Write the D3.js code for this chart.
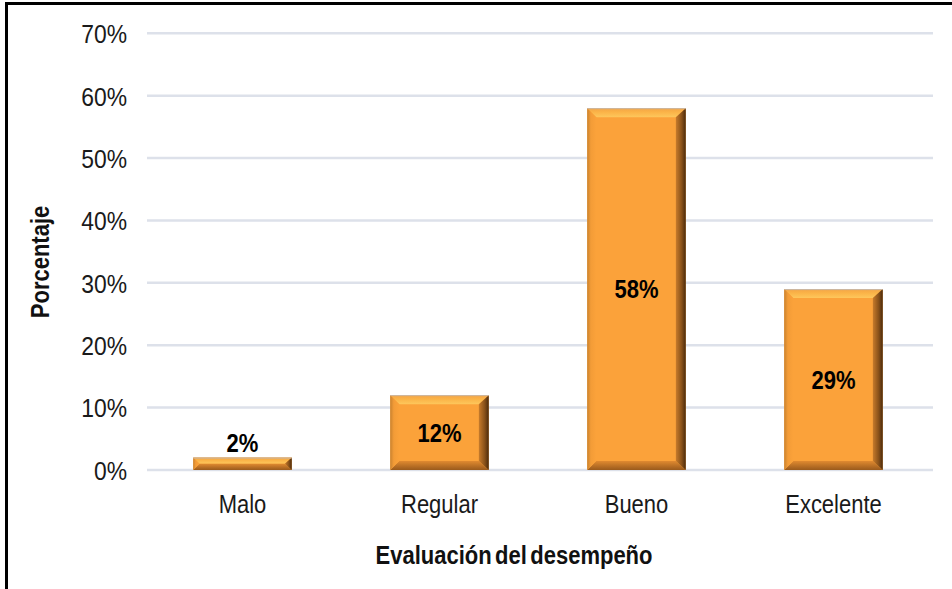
<!DOCTYPE html>
<html>
<head>
<meta charset="utf-8">
<script src="https://cdn.jsdelivr.net/npm/d3@7"></script>
<style>
  html, body { margin: 0; padding: 0; background: #fff; }
  svg { display: block; }
  text { font-family: "Liberation Sans", Arial, sans-serif; }
</style>
</head>
<body>
<svg id="chart" width="952" height="589"></svg>
<script>
// Evaluación del desempeño — percentage per rating
const categories = ["Malo", "Regular", "Bueno", "Excelente"];
const values = [2, 12, 58, 29];
const valueLabels = ["2%", "12%", "58%", "29%"];
const yTicks = [0, 10, 20, 30, 40, 50, 60, 70];

const FONT = "'Liberation Sans', Arial, sans-serif";
const NARROW = 0.88; // horizontal squeeze for a narrow face

const svg = d3.select("#chart");
const W = 952, H = 589;
const grid = { left: 147, right: 933 };
const plot = { left: 144, right: 932, top: 33.3, bottom: 470 };

const defs = svg.append("defs");
function grad(id, x1, y1, x2, y2, stops) {
  const g = defs.append("linearGradient").attr("id", id)
    .attr("x1", x1).attr("y1", y1).attr("x2", x2).attr("y2", y2);
  stops.forEach(s => g.append("stop").attr("offset", s[0]).attr("stop-color", s[1]));
}
grad("bevTop", 0, 0, 0, 1, [[0, "#f3a445"], [0.45, "#fbb448"], [1, "#fdc75c"]]);
grad("bevRight", 0, 0, 1, 0, [[0, "#c77b2b"], [0.6, "#875019"], [1, "#4a2a0c"]]);
grad("bevBottom", 0, 0, 0, 1, [[0, "#e08a30"], [1, "#9a5a1c"]]);
grad("bevLeft", 0, 0, 1, 0, [[0, "#c9822f"], [0.4, "#f39c37"], [1, "#fba23a"]]);

// outer frame (top and left edges visible)
svg.append("line").attr("x1", 5).attr("x2", W).attr("y1", 3.5).attr("y2", 3.5)
  .attr("stroke", "#000").attr("stroke-width", 3);
svg.append("line").attr("x1", 6.5).attr("x2", 6.5).attr("y1", 2).attr("y2", H)
  .attr("stroke", "#000").attr("stroke-width", 3);

const x = d3.scaleBand().domain(categories).range([plot.left, plot.right]).paddingInner(0.5).paddingOuter(0.25);
const y = d3.scaleLinear().domain([0, 70]).range([plot.bottom, plot.top]);

// gridlines
svg.append("g").selectAll("line").data(yTicks).join("line")
  .attr("x1", grid.left).attr("x2", grid.right)
  .attr("y1", d => y(d)).attr("y2", d => y(d))
  .attr("stroke", "#dde1ea").attr("stroke-width", 2.5);

// y axis labels
const yAxis = d3.axisLeft(y).tickValues(yTicks).tickFormat(d => d + "%").tickSize(0).tickPadding(0);
const yg = svg.append("g").attr("transform", `translate(127,0)`).call(yAxis);
yg.select(".domain").remove();
yg.selectAll("text").attr("font-size", 26).attr("fill", "#1a1a1a").attr("x", 0).attr("dy", "0.36em")
  .style("font-family", FONT).attr("transform", `scale(${NARROW},1)`);

// x axis labels
const xAxis = d3.axisBottom(x).tickSize(0).tickPadding(0);
const xg = svg.append("g").attr("transform", `translate(0,${plot.bottom})`).call(xAxis);
xg.select(".domain").remove();
xg.selectAll("text").attr("font-size", 25).attr("fill", "#1a1a1a").attr("y", 513 - plot.bottom).attr("dy", 0)
  .style("font-family", FONT).attr("transform", `scale(${NARROW},1)`);

// bevelled bars
const bars = svg.append("g");
const bevel = 9;
categories.forEach((c, i) => {
  const x0 = x(c), x1 = x0 + x.bandwidth();
  const y0 = y(values[i]), y1 = y(0);
  const h = y1 - y0;
  const b = Math.min(bevel, h / 2, x.bandwidth() / 2);
  const br = b * 1.1;
  const g = bars.append("g");
  g.append("rect").attr("x", x0).attr("y", y0).attr("width", x1 - x0).attr("height", h)
    .attr("fill", "#fba23a");
  const faces = [
    { pts: [[x0, y0], [x1, y0], [x1 - br, y0 + b], [x0 + b, y0 + b]], fill: "url(#bevTop)" },
    { pts: [[x0, y1], [x1, y1], [x1 - br, y1 - b], [x0 + b, y1 - b]], fill: "url(#bevBottom)" },
    { pts: [[x0, y0], [x0, y1], [x0 + b, y1 - b], [x0 + b, y0 + b]], fill: "url(#bevLeft)" },
    { pts: [[x1, y0], [x1, y1], [x1 - br, y1 - b], [x1 - br, y0 + b]], fill: "url(#bevRight)" }
  ];
  faces.forEach(f => g.append("polygon")
    .attr("points", f.pts.map(p => p.join(",")).join(" "))
    .attr("fill", f.fill));
  g.append("line").attr("x1", x0).attr("x2", x1).attr("y1", y0 + 0.5).attr("y2", y0 + 0.5)
    .attr("stroke", "#c8b8a8").attr("stroke-width", 1);
});

// value labels
svg.append("g").selectAll("text").data(categories).join("text")
  .attr("transform", (d, i) => {
    const cx = x(d) + x.bandwidth() / 2;
    const top = y(values[i]);
    const h = y(0) - top;
    const by = h < 30 ? top - 6 : top + h / 2 + 9;
    return `translate(${cx},${by}) scale(${NARROW},1)`;
  })
  .attr("text-anchor", "middle")
  .attr("font-size", 25).attr("font-weight", "bold").attr("fill", "#000")
  .text((d, i) => valueLabels[i]);

// axis titles
svg.append("text").attr("transform", `translate(514,564) scale(${NARROW},1)`)
  .attr("text-anchor", "middle").attr("font-size", 25).attr("font-weight", "bold")
  .attr("word-spacing", -3).attr("fill", "#111")
  .text("Evaluación del desempeño");
svg.append("text").attr("transform", `translate(49,262) rotate(-90) scale(${NARROW},1)`)
  .attr("text-anchor", "middle").attr("font-size", 25).attr("font-weight", "bold").attr("fill", "#111")
  .text("Porcentaje");
</script>
</body>
</html>
